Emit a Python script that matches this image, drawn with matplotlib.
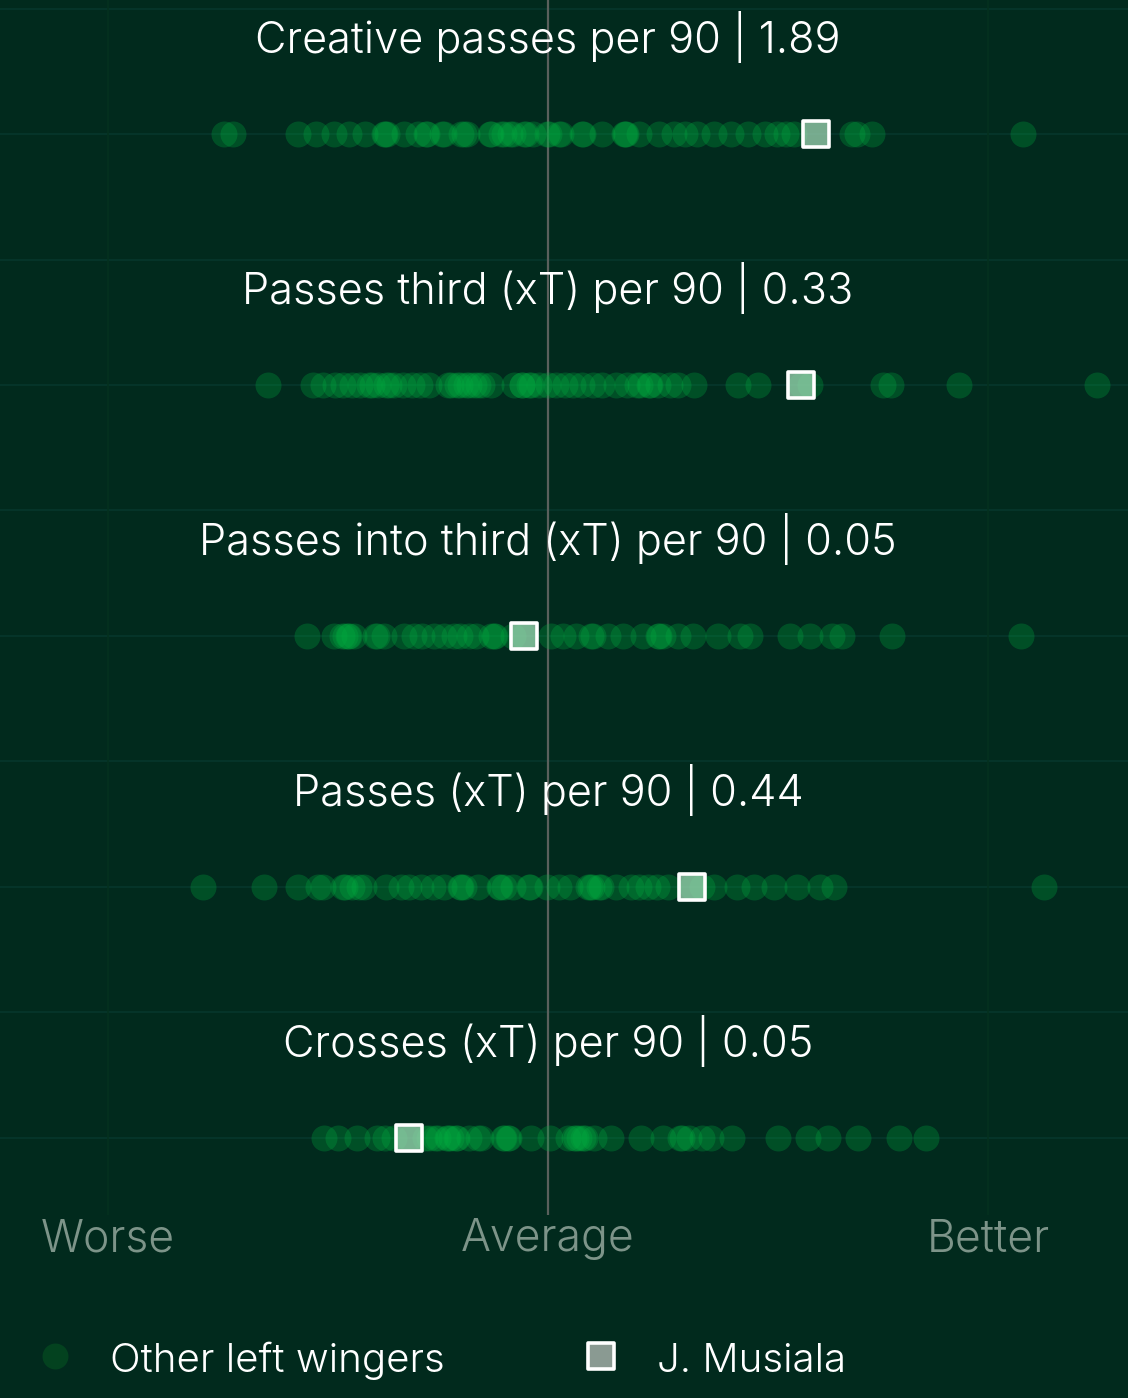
import matplotlib
matplotlib.use("Agg")
import matplotlib.pyplot as plt
import matplotlib.transforms as mtrans
from matplotlib import font_manager as fm

# ---------------- data (relative score: -100 = worse, 0 = average, 100 = better)
metrics = [
    "Creative passes per 90 | 1.89",
    "Passes third (xT) per 90 | 0.33",
    "Passes into third (xT) per 90 | 0.05",
    "Passes (xT) per 90 | 0.44",
    "Crosses (xT) per 90 | 0.05",
]

others_creative = [-73.5, -71.5, -56.9, -52.7, -48.7, -45.2, -41.6, -37.3, -37.0, -36.5,
                   -32.8, -29.5, -27.8, -27.5, -23.6, -24.0, -19.7, -19.0, -18.5, -13.2,
                   -13.0, -10.6, -10.0, -8.6, -8.0, -5.4, -5.0, -3.4, -0.1, 0.3, 2.5, 3.0,
                   7.7, 8.0, 12.3, 17.5, 17.8, 17.2, 20.7, 25.3, 28.6, 31.2, 33.8, 37.7,
                   41.6, 45.5, 49.4, 52.0, 54.0, 55.9, 69.0, 70.3, 73.6, 107.9]
others_third = [-63.6, -53.3, -51.0, -48.4, -46.5, -44.5, -42.6, -40.7, -40.0, -38.5,
                -36.8, -36.0, -34.9, -32.9, -31.0, -29.1, -27.1, -22.6, -22.0, -20.7,
                -20.0, -18.7, -18.0, -16.8, -16.0, -14.9, -12.9, -7.8, -5.8, -6.0, -3.9,
                -4.2, -2.0, 0.0, 1.9, 3.8, 5.8, 7.7, 10.3, 12.2, 15.5, 18.0, 20.2, 21.0,
                23.2, 23.0, 25.1, 27.7, 29.6, 33.3, 43.2, 47.7, 57.4, 59.5, 76.1, 78.0,
                93.5, 124.7]
others_into_third = [-54.7, -48.5, -46.8, -46.0, -45.1, -44.0, -45.5, -38.9, -39.2, -37.2,
                     -32.6, -30.4, -28.7, -25.9, -23.6, -21.3, -20.0, -18.0, -16.3, -13.0,
                     -12.3, -12.0, -8.0, -5.5, 0.7, 3.5, 6.4, 9.8, 10.2, 13.7, 17.1, 21.6,
                     25.0, 25.3, 26.1, 29.5, 32.9, 38.6, 43.7, 45.9, 55.0, 59.5, 64.6, 66.8,
                     78.1, 107.5]
others_passes = [-78.4, -64.5, -56.9, -52.3, -51.0, -46.5, -46.0, -44.5, -43.0, -41.9,
                 -36.7, -33.4, -31.5, -28.8, -26.2, -23.6, -19.7, -20.0, -19.0, -15.8,
                 -11.2, -11.0, -10.0, -8.0, -4.0, -4.3, -0.1, 2.5, 5.1, 9.0, 9.5, 10.0,
                 11.6, 12.0, 15.5, 18.8, 20.7, 22.7, 24.7, 27.3, 32.8, 35.0, 37.7, 42.9,
                 46.8, 51.4, 56.6, 61.8, 65.1, 112.7]
others_crosses = [-50.8, -47.8, -43.4, -38.9, -37.0, -35.0, -31.5, -28.0, -27.0, -25.6,
                  -25.0, -23.0, -22.7, -22.0, -21.0, -20.7, -18.0, -16.0, -15.3, -10.3,
                  -10.0, -9.0, -8.9, -3.9, 0.5, 4.5, 6.4, 6.0, 7.0, 8.4, 8.0, 10.4, 14.3,
                  21.2, 26.1, 30.1, 30.5, 32.0, 35.0, 37.0, 41.9, 52.3, 59.1, 63.6, 70.5,
                  79.8, 85.8]
others = [others_creative, others_third, others_into_third, others_passes, others_crosses]

musiala = [60.8, 57.4, -5.5, 32.8, -31.5]

axis_ticks = [-100, 0, 100]
axis_labels = ["Worse", "Average", "Better"]
legend_labels = ["Other left wingers", "J. Musiala"]

# ---------------- style
BG = "#012a1d"
DOT = "#00b040"
GRID = "#06352a"
families = fm.get_font_names()
FONT = "Inter" if "Inter" in families else "DejaVu Sans"
plt.rcParams["font.family"] = [FONT, "DejaVu Sans"]
FW = 300

W, H = 1128, 1398
fig = plt.figure(figsize=(W / 100, H / 100), dpi=100, facecolor=BG)
ax = fig.add_axes([0, 183 / H, 1, 1215 / H])
ax.set_facecolor(BG)
ax.set_xlim(-124.5, 131.8)
ax.set_ylim(4.307, -0.534)

# grid
for yv in [i * 0.5 - 0.5 for i in range(10)]:
    ax.axhline(yv, color=GRID, lw=1.4, zorder=0)
for xv in [-100, 100]:
    ax.axvline(xv, color="#04311f", lw=1.2, zorder=0)
ax.axvline(0, color="#5a605c", lw=1.6, zorder=1)

for i, (vals, m, title) in enumerate(zip(others, musiala, metrics)):
    ax.scatter(vals, [i] * len(vals), s=350, color=DOT, alpha=0.28,
               linewidths=0, zorder=3)
    ax.scatter([m], [i], s=330, marker="s", facecolors=[(0.62, 0.84, 0.70, 0.75)],
               edgecolors="white", linewidths=2.6, zorder=4)
    ax.text(0, i - 0.323, title, ha="center", va="baseline", color="white",
            fontsize=31.2, fontweight=FW, zorder=5)

for s in ax.spines.values():
    s.set_visible(False)
ax.set_xticks([])
ax.set_yticks([])

tr = mtrans.blended_transform_factory(ax.transData, fig.transFigure)
for xv, lab in zip(axis_ticks, axis_labels):
    ax.text(xv, 147 / H, lab, transform=tr, ha="center", va="baseline",
            color="#7d9489", fontsize=32, fontweight=FW, clip_on=False)

# legend
lax = fig.add_axes([0, 0, 1, 150 / H])
lax.set_xlim(0, 1)
lax.set_ylim(0, 1)
lax.axis("off")
lax.patch.set_alpha(0)
lax.scatter([55 / W], [42 / 150], s=350, color="#03421f", linewidths=0)
lax.text(110 / W, 26 / 150, legend_labels[0], ha="left", va="baseline",
         color="white", fontsize=29, fontweight=FW)
lax.scatter([601 / W], [42 / 150], s=330, marker="s", facecolors="#8a9a92",
            edgecolors="white", linewidths=2.6)
lax.text(657 / W, 26 / 150, legend_labels[1], ha="left", va="baseline",
         color="white", fontsize=29, fontweight=FW)

fig.savefig("out.png", dpi=100, facecolor=BG)
